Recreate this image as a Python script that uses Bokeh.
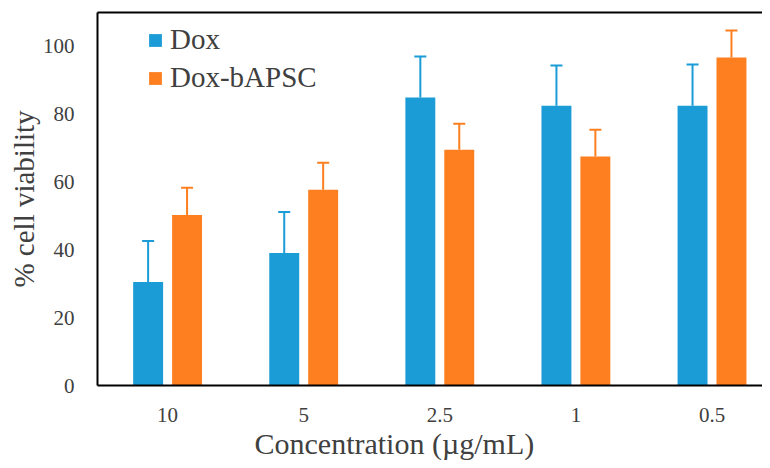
import numpy as np
from bokeh.plotting import figure
from bokeh.models import (ColumnDataSource, Range1d, FixedTicker, Whisker, TeeHead,
                          LinearAxis, Legend, LegendItem, Title)
from bokeh.embed import file_html
from bokeh.resources import INLINE

# ---- data ----
concentrations = ["10", "5", "2.5", "1", "0.5"]
dox = [30.5, 39.1, 84.9, 82.5, 82.5]
dox_err = [12.1, 12.1, 12.1, 11.9, 12.2]
dox_bapsc = [50.3, 57.7, 69.5, 67.5, 96.7]
dox_bapsc_err = [8.0, 8.0, 7.7, 7.9, 8.0]
y_ticks = [0, 20, 40, 60, 80, 100]

BLUE = "#1b9cd6"
ORANGE = "#fd7f20"
TEXT = "#404040"
FONT = "Liberation Serif"

idx = np.arange(len(concentrations))
off = 0.143
bw = 0.22

src_a = ColumnDataSource(dict(x=idx - off, top=dox,
                              upper=np.array(dox) + np.array(dox_err), base=dox))
src_b = ColumnDataSource(dict(x=idx + off, top=dox_bapsc,
                              upper=np.array(dox_bapsc) + np.array(dox_bapsc_err), base=dox_bapsc))

p = figure(width=762, height=460, output_backend="svg", toolbar_location=None,
           x_range=Range1d(-0.515, 4.371), y_range=Range1d(0, 110),
           min_border_left=97, min_border_right=0, min_border_top=12, min_border_bottom=75)
p.outline_line_color = None
p.grid.visible = False
p.background_fill_color = "white"

r_a = p.vbar(x="x", top="top", width=bw, source=src_a, fill_color=BLUE, line_color=None)
r_b = p.vbar(x="x", top="top", width=bw, source=src_b, fill_color=ORANGE, line_color=None)

for src, col in ((src_a, BLUE), (src_b, ORANGE)):
    w = Whisker(source=src, base="x", upper="upper", lower="base",
                line_color=col, line_width=2,
                upper_head=TeeHead(size=12, line_color=col, line_width=2),
                lower_head=None)
    p.add_layout(w)

# axes
for ax in (p.xaxis[0], p.yaxis[0]):
    ax.axis_line_color = "black"
    ax.axis_line_width = 2
    ax.major_tick_line_color = None
    ax.minor_tick_line_color = None
    ax.major_label_text_font = FONT
    ax.major_label_text_font_size = "21px"
    ax.major_label_text_color = TEXT
    ax.axis_label_text_font = FONT
    ax.axis_label_text_font_size = "29px"
    ax.axis_label_text_font_style = "normal"
    ax.axis_label_text_color = TEXT

p.xaxis.ticker = FixedTicker(ticks=list(idx))
p.xaxis.major_label_overrides = {int(i): c for i, c in zip(idx, concentrations)}
p.xaxis.major_label_standoff = 16

p.yaxis.ticker = FixedTicker(ticks=y_ticks)
p.yaxis.axis_label = "% cell viability"
p.yaxis.major_label_standoff = 17
p.yaxis.axis_label_standoff = 0

xtitle = Title(text="Concentration (µg/mL)", align="left", offset=157, standoff=0,
               text_font=FONT, text_font_size="30px", text_font_style="normal",
               text_color=TEXT)
p.add_layout(xtitle, "below")

top_ax = LinearAxis(axis_line_color="black", axis_line_width=2,
                    ticker=FixedTicker(ticks=[]),
                    major_tick_line_color=None, minor_tick_line_color=None,
                    major_label_standoff=0, major_tick_out=0, major_tick_in=0,
                    minor_tick_out=0, minor_tick_in=0)
p.add_layout(top_ax, "above")

legend = Legend(items=[LegendItem(label="Dox", renderers=[r_a]),
                       LegendItem(label="Dox-bAPSC", renderers=[r_b])],
                location=(50, 291), border_line_color=None, background_fill_alpha=0,
                label_text_font=FONT, label_text_font_size="29px", label_text_color=TEXT,
                glyph_width=16, glyph_height=16, label_height=32, spacing=5,
                padding=0, margin=0, label_standoff=7)
p.add_layout(legend, "center")

open("out.html", "w").write(file_html(p, INLINE))
